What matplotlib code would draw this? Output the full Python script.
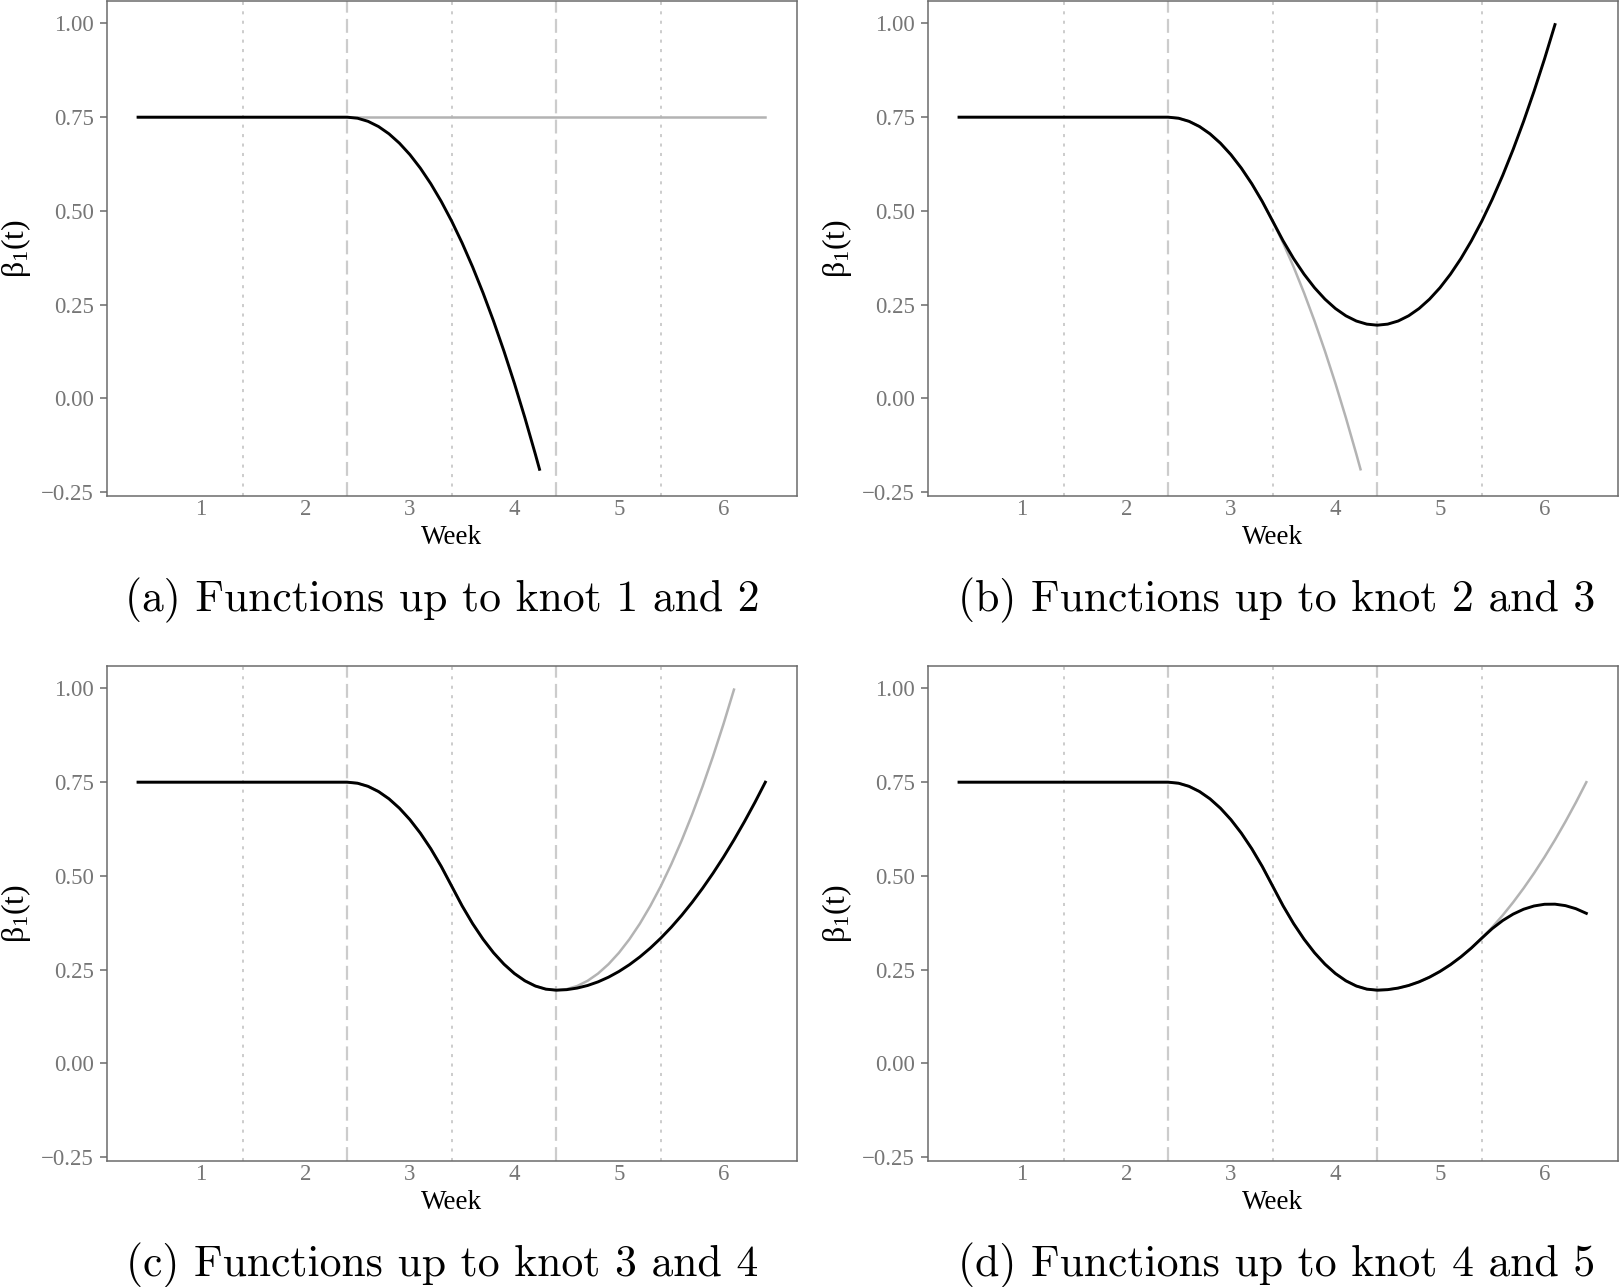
import matplotlib
matplotlib.use("Agg")
import matplotlib.pyplot as plt

plt.rcParams["font.family"] = "Liberation Serif"
plt.rcParams["mathtext.fontset"] = "custom"
plt.rcParams["mathtext.rm"] = "Liberation Serif"
plt.rcParams["mathtext.it"] = "Liberation Serif"
plt.rcParams["lines.scale_dashes"] = False

# sample weeks (flat part 0.4-2.4 is constant)
WEEK = [0.4, 2.4, 2.5, 2.6, 2.7, 2.8, 2.9, 3.0, 3.1, 3.2, 3.3, 3.4, 3.5, 3.6,
        3.7, 3.8, 3.9, 4.0, 4.1, 4.2, 4.3, 4.4, 4.5, 4.6, 4.7, 4.8, 4.9, 5.0,
        5.1, 5.2, 5.3, 5.4, 5.5, 5.6, 5.7, 5.8, 5.9, 6.0, 6.1, 6.2, 6.3, 6.4]

week_k1 = [0.4, 6.4]
beta_k1 = [0.75, 0.75]

week_k2 = [0.4, 2.4, 2.5, 2.6, 2.7, 2.8, 2.9, 3.0, 3.1, 3.2, 3.3, 3.4, 3.5,
           3.6, 3.7, 3.8, 3.9, 4.0, 4.1, 4.2, 4.24]
beta_k2 = [0.75, 0.75, 0.7472, 0.7389, 0.7250, 0.7056, 0.6806, 0.6501, 0.6140,
           0.5724, 0.5252, 0.4725, 0.4142, 0.3504, 0.2810, 0.2061, 0.1256,
           0.0396, -0.0520, -0.1491, -0.1895]

beta_k3 = [0.75, 0.75, 0.7472, 0.7389, 0.7250, 0.7056, 0.6806, 0.6501, 0.6140,
           0.5724, 0.5252, 0.4725, 0.4198, 0.3726, 0.3310, 0.2949, 0.2644,
           0.2394, 0.2200, 0.2061, 0.1978, 0.1950, 0.1978, 0.2061, 0.2200,
           0.2394, 0.2644, 0.2949, 0.3310, 0.3726, 0.4198, 0.4725, 0.5308,
           0.5946, 0.6640, 0.7389, 0.8194, 0.9054, 0.9970]

beta_k4 = [0.75, 0.75, 0.7472, 0.7389, 0.7250, 0.7056, 0.6806, 0.6501, 0.6140,
           0.5724, 0.5252, 0.4725, 0.4198, 0.3726, 0.3310, 0.2949, 0.2644,
           0.2394, 0.2200, 0.2061, 0.1978, 0.1950, 0.1964, 0.2006, 0.2075,
           0.2172, 0.2297, 0.2450, 0.2630, 0.2838, 0.3074, 0.3338, 0.3629,
           0.3948, 0.4295, 0.4670, 0.5072, 0.5502, 0.5960, 0.6446, 0.6959,
           0.7500]

beta_k5 = [0.75, 0.75, 0.7472, 0.7389, 0.7250, 0.7056, 0.6806, 0.6501, 0.6140,
           0.5724, 0.5252, 0.4725, 0.4198, 0.3726, 0.3310, 0.2949, 0.2644,
           0.2394, 0.2200, 0.2061, 0.1978, 0.1950, 0.1964, 0.2006, 0.2075,
           0.2172, 0.2297, 0.2450, 0.2630, 0.2838, 0.3074, 0.3338, 0.3594,
           0.3808, 0.3980, 0.4110, 0.4197, 0.4242, 0.4245, 0.4206, 0.4124,
           0.4000]

KNOTS_DOTTED = [1.4, 3.4, 5.4]
KNOTS_DASHED = [2.4, 4.4]
X_TICKS = [1, 2, 3, 4, 5, 6]
Y_TICKS = [-0.25, 0.0, 0.25, 0.50, 0.75, 1.00]

CAPTIONS = ["(a) Functions up to knot 1 and 2",
            "(b) Functions up to knot 2 and 3",
            "(c) Functions up to knot 3 and 4",
            "(d) Functions up to knot 4 and 5"]

curves = [
    ((week_k1, beta_k1), (week_k2, beta_k2)),
    ((week_k2, beta_k2), (WEEK[:len(beta_k3)], beta_k3)),
    ((WEEK[:len(beta_k3)], beta_k3), (WEEK, beta_k4)),
    ((WEEK, beta_k4), (WEEK, beta_k5)),
]

FW, FH = 1619, 1287
fig = plt.figure(figsize=(FW / 100, FH / 100), dpi=100)

lefts = [106.7, 927.7]
tops = [1.0, 666.0]
aw, ah = 690.0, 494.7
axis_grey = "#6b6b6b"

for i, (grey, black) in enumerate(curves):
    col, row = i % 2, i // 2
    left, top = lefts[col], tops[row]
    ax = fig.add_axes([left / FW, 1 - (top + ah) / FH, aw / FW, ah / FH])

    for k in KNOTS_DOTTED:
        ax.axvline(k, color="#cccccc", lw=1.4, dashes=(2.2, 4.6), zorder=1)
    for k in KNOTS_DASHED:
        ax.axvline(k, color="#cccccc", lw=1.6, dashes=(10.0, 4.5), zorder=1)

    ax.plot(grey[0], grey[1], color="#b3b3b3", lw=1.8, zorder=2)
    ax.plot(black[0], black[1], color="black", lw=2.1, zorder=3)

    ax.set_xlim(0.1, 6.7)
    ax.set_ylim(-0.26, 1.06)
    ax.set_xticks(X_TICKS)
    ax.set_yticks(Y_TICKS)
    ax.set_yticklabels([f"{v:.2f}".replace("-", "\u2212") for v in Y_TICKS])
    ax.tick_params(axis="x", length=0, pad=2.5, labelsize=16.5, labelcolor="#767676")
    ax.tick_params(axis="y", length=5.3, width=1.1, color=axis_grey, pad=4.0,
                   labelsize=16.5, labelcolor="#767676")
    for sp in ax.spines.values():
        sp.set_color(axis_grey)
        sp.set_linewidth(1.1)

    cx = left + aw / 2
    fig.text(cx / FW, 1 - (top + 543) / FH, "Week", ha="center", va="baseline",
             fontsize=19.5, color="black")
    fig.text((left - 91) / FW, 1 - (top + ah / 2) / FH, r"$\beta_1(t)$",
             rotation=90, ha="center", va="center", fontsize=23, color="black")
    cap_x = [442.5, 1277][col]
    fig.text(cap_x / FW, 1 - (top + 610) / FH, CAPTIONS[i], ha="center",
             va="baseline", fontsize=31.5, family="cmr10", color="black")

fig.savefig("out.png", dpi=100)
